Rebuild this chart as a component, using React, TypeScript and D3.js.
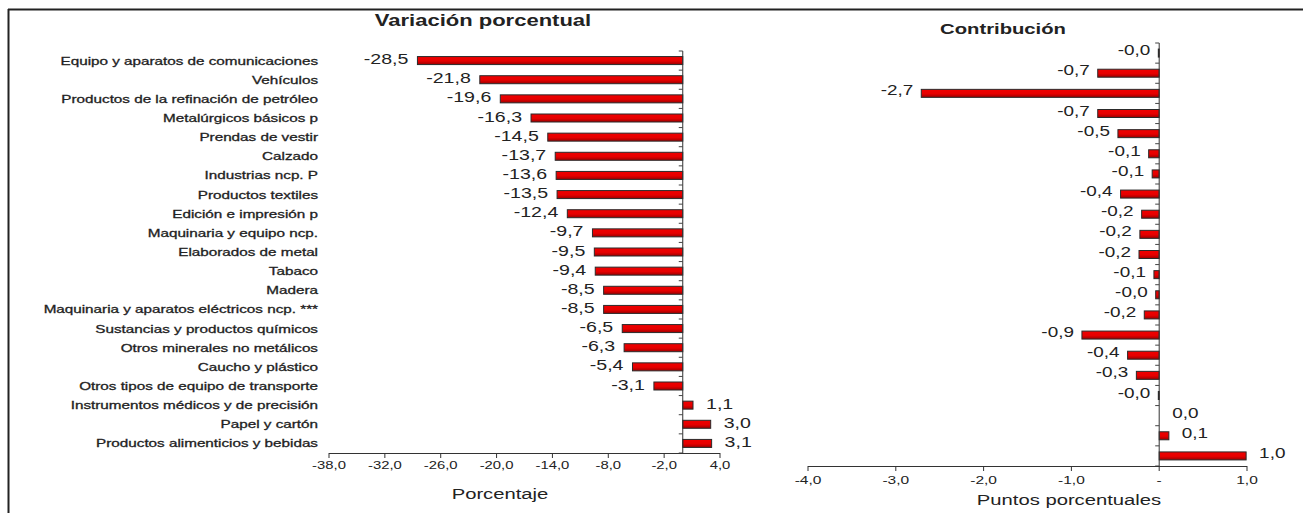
import React from "react";
import * as d3 from "d3";

const categories = [
  "Equipo y aparatos de  comunicaciones",
  "Vehículos",
  "Productos de la refinación de petróleo",
  "Metalúrgicos básicos p",
  "Prendas de vestir",
  "Calzado",
  "Industrias ncp. P",
  "Productos textiles",
  "Edición e impresión p",
  "Maquinaria y equipo ncp.",
  "Elaborados de metal",
  "Tabaco",
  "Madera",
  "Maquinaria y aparatos eléctricos ncp. ***",
  "Sustancias y productos químicos",
  "Otros minerales no metálicos",
  "Caucho y plástico",
  "Otros tipos de equipo de transporte",
  "Instrumentos médicos y de precisión",
  "Papel y cartón",
  "Productos alimenticios y bebidas",
];

const variacion = [
  -28.5, -21.8, -19.6, -16.3, -14.5, -13.7, -13.6, -13.5, -12.4, -9.7, -9.5,
  -9.4, -8.5, -8.5, -6.5, -6.3, -5.4, -3.1, 1.1, 3.0, 3.1,
];

const contribucion = [
  -0.01, -0.7, -2.71, -0.7, -0.47, -0.12, -0.08, -0.44, -0.2, -0.22, -0.23,
  -0.06, -0.04, -0.17, -0.88, -0.36, -0.26, -0.01, 0.0, 0.11, 0.99,
];

const leftTicks = [-38, -32, -26, -20, -14, -8, -2, 4];
const rightTicks = [-4, -3, -2, -1, 0, 1];
const rightTickLabels = ["-4,0", "-3,0", "-2,0", "-1,0", "-", "1,0"];

const fmt = (v: number) =>
  (v < 0 ? "-" : "") + Math.abs(v).toFixed(1).replace(".", ",");

const SX = 1.35;
const FONT = "'Liberation Sans', Arial, sans-serif";
const TXT = "#222";

function T({ x, y, anchor = "start", size, weight = "normal", fill = TXT, sw = 0, children }: any) {
  return (
    <text
      transform={`translate(${x},${y}) scale(${SX},1)`}
      textAnchor={anchor}
      fontSize={size}
      fontWeight={weight}
      fontFamily={FONT}
      fill={fill}
      stroke={sw > 0 ? fill : "none"}
      strokeWidth={sw}
    >
      {children}
    </text>
  );
}

export default function App() {
  const xL = d3.scaleLinear().domain([-38, 4]).range([329, 720]);
  const yL = d3.scaleBand<string>().domain(categories).range([51, 453]);
  const xR = d3.scaleLinear().domain([-4, 1]).range([808, 1247]);
  const yR = d3.scaleBand<string>().domain(categories).range([43, 466]);

  const barH = 8;
  const bwL = yL.bandwidth();
  const bwR = yR.bandwidth();

  const boundsL = d3.range(categories.length + 1).map((i) => 51 + i * bwL);
  const boundsR = d3.range(categories.length + 1).map((i) => 43 + i * bwR);

  return (
    <svg
      width={1303}
      height={513}
      style={{ position: "absolute", left: 0, top: 0, background: "#fff" }}
    >
      <defs>
        <linearGradient id="redg" x1="0" y1="0" x2="0" y2="1">
          <stop offset="0" stopColor="#f00000" />
          <stop offset="0.55" stopColor="#e60000" />
          <stop offset="1" stopColor="#9a0000" />
        </linearGradient>
      </defs>
      <rect x={0} y={0} width={1303} height={513} fill="#fff" />
      <line x1={8} y1={9.5} x2={1303} y2={9.5} stroke="#222" strokeWidth={2} />
      <line x1={8.5} y1={9} x2={8.5} y2={513} stroke="#222" strokeWidth={2} />

      <T x={483} y={26} anchor="middle" size={16.3} weight="bold">
        Variación porcentual
      </T>
      <T x={1003} y={34} anchor="middle" size={15} weight="bold">
        Contribución
      </T>

      {categories.map((c) => (
        <T key={c} x={318} y={yL(c)! + bwL / 2 + 4} anchor="end" size={11.3} sw={0.3}>
          {c}
        </T>
      ))}

      {categories.map((c, i) => {
        const v = variacion[i];
        const x0 = xL(Math.min(0, v));
        const w = Math.abs(xL(v) - xL(0));
        const cy = yL(c)! + bwL / 2;
        return (
          <g key={c}>
            <rect
              x={x0}
              y={cy - barH / 2}
              width={w}
              height={barH}
              fill="url(#redg)"
              stroke="#2a2a2a"
              strokeWidth={1}
            />
            <T
              x={v < 0 ? xL(v) - 9 : xL(v) + 13}
              y={cy + 3.5}
              anchor={v < 0 ? "end" : "start"}
              size={14.5}
            >
              {fmt(v)}
            </T>
          </g>
        );
      })}

      <line x1={xL(0)} y1={51} x2={xL(0)} y2={453} stroke="#333" strokeWidth={1} />
      {boundsL.map((b, i) => (
        <line key={i} x1={xL(0) - 4} y1={b} x2={xL(0)} y2={b} stroke="#444" />
      ))}
      <line x1={xL(-38)} y1={453.5} x2={xL(4)} y2={453.5} stroke="#333" />
      {leftTicks.map((t) => (
        <g key={t}>
          <line x1={xL(t)} y1={453} x2={xL(t)} y2={458} stroke="#333" />
          <T x={xL(t)} y={469} anchor="middle" size={11}>
            {fmt(t)}
          </T>
        </g>
      ))}
      <T x={500} y={499} anchor="middle" size={15}>
        Porcentaje
      </T>

      {categories.map((c, i) => {
        const v = contribucion[i];
        const x0 = xR(Math.min(0, v));
        const w = Math.abs(xR(v) - xR(0));
        const cy = yR(c)! + bwR / 2;
        return (
          <g key={c}>
            {w > 0.3 && (
              <rect
                x={x0}
                y={cy - barH / 2}
                width={w}
                height={barH}
                fill="url(#redg)"
                stroke="#2a2a2a"
                strokeWidth={1}
              />
            )}
            <T
              x={v < 0 ? xR(v) - 8 : xR(v) + 13}
              y={cy + 2}
              anchor={v < 0 ? "end" : "start"}
              size={14}
            >
              {fmt(v)}
            </T>
          </g>
        );
      })}

      <line x1={xR(0)} y1={43} x2={xR(0)} y2={466} stroke="#333" strokeWidth={1} />
      {boundsR.map((b, i) => (
        <line key={i} x1={xR(0) - 4} y1={b} x2={xR(0)} y2={b} stroke="#444" />
      ))}
      <line x1={xR(-4)} y1={466.5} x2={xR(1)} y2={466.5} stroke="#333" />
      {rightTicks.map((t, i) => (
        <g key={t}>
          <line x1={xR(t)} y1={466} x2={xR(t)} y2={471} stroke="#333" />
          <T x={xR(t)} y={484} anchor="middle" size={11.5}>
            {rightTickLabels[i]}
          </T>
        </g>
      ))}
      <T x={1069} y={505} anchor="middle" size={15}>
        Puntos porcentuales
      </T>
    </svg>
  );
}
